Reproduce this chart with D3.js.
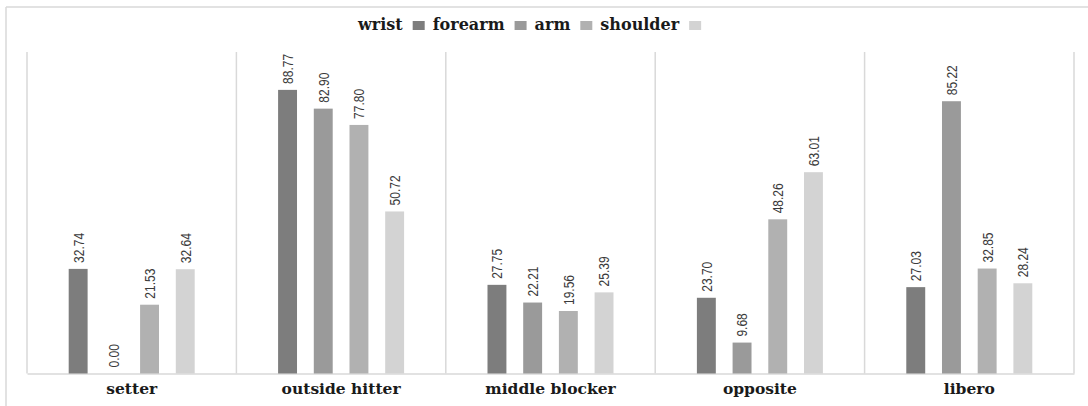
<!DOCTYPE html>
<html>
<head>
<meta charset="utf-8">
<script src="https://cdn.jsdelivr.net/npm/d3@7"></script>
<style>
  html, body { margin: 0; padding: 0; background: #ffffff; }
  svg { display: block; }
</style>
</head>
<body>
<svg id="chart" width="1088" height="406"></svg>
<script>
// Playing positions and body regions
const positions = ["setter", "outside hitter", "middle blocker", "opposite", "libero"];
const regions = ["wrist", "forearm", "arm", "shoulder"];

// Values per region, one entry per position
const wrist    = [32.74, 88.77, 27.75, 23.70, 27.03];
const forearm  = [0.00, 82.90, 22.21, 9.68, 85.22];
const arm      = [21.53, 77.80, 19.56, 48.26, 32.85];
const shoulder = [32.64, 50.72, 25.39, 63.01, 28.24];

const seriesValues = { wrist, forearm, arm, shoulder };
const colors = { wrist: "#7d7d7d", forearm: "#9a9a9a", arm: "#b1b1b1", shoulder: "#d3d3d3" };

const svg = d3.select("#chart");
const W = 1088, H = 406;
const gridColor = "#d9d9d9";
const serif = "'DejaVu Serif', 'Liberation Serif', serif";

// Frame around the chart
svg.append("line").attr("x1", 6).attr("x2", W).attr("y1", 7).attr("y2", 7)
  .attr("stroke", gridColor).attr("stroke-width", 1.5);
svg.append("line").attr("x1", 6).attr("x2", 6).attr("y1", 7).attr("y2", H)
  .attr("stroke", gridColor).attr("stroke-width", 1.5);

const plot = { left: 27, right: 1074, top: 52, bottom: 373.5 };

const x = d3.scaleBand().domain(positions).range([plot.left, plot.right]).padding(0);
const xInner = d3.scaleBand().domain(regions).range([0, x.bandwidth()])
  .paddingInner(0.47).paddingOuter(1.168);
const y = d3.scaleLinear().domain([0, 100]).range([plot.bottom, 54]);

// Category separators and plot edges
const edges = positions.map(p => x(p)).concat([plot.right]);
svg.append("g").selectAll("line").data(edges).join("line")
  .attr("x1", d => d).attr("x2", d => d)
  .attr("y1", plot.top).attr("y2", plot.bottom)
  .attr("stroke", gridColor).attr("stroke-width", 1.5);

// Baseline axis
const xAxis = svg.append("g")
  .attr("transform", `translate(0,${plot.bottom})`)
  .call(d3.axisBottom(x).tickSize(0).tickPadding(9));
xAxis.select(".domain").attr("stroke", gridColor).attr("stroke-width", 1.5);
xAxis.selectAll("text")
  .attr("font-family", serif)
  .attr("font-weight", "bold")
  .attr("font-size", 15.5)
  .attr("fill", "#1a1a1a");

// Bars
const rows = [];
positions.forEach((p, i) => {
  regions.forEach(r => rows.push({ position: p, region: r, value: seriesValues[r][i] }));
});

const groups = svg.append("g");
groups.selectAll("rect").data(rows).join("rect")
  .attr("x", d => x(d.position) + xInner(d.region))
  .attr("y", d => y(d.value))
  .attr("width", xInner.bandwidth())
  .attr("height", d => y(0) - y(d.value))
  .attr("fill", d => colors[d.region]);

// Value labels, rotated above each bar, drawn in a narrow face
const fmt = d3.format(".2f");
groups.selectAll("text").data(rows).join("text")
  .attr("transform", d => {
    const cx = x(d.position) + xInner(d.region) + xInner.bandwidth() / 2;
    return `translate(${cx},${y(d.value) - 6}) rotate(-90) scale(0.8,1)`;
  })
  .attr("dy", "0.36em")
  .attr("text-anchor", "start")
  .attr("font-family", "'Liberation Sans', Arial, sans-serif")
  .attr("font-size", 15)
  .attr("fill", "#3a3a3a")
  .text(d => fmt(d.value));

// Legend: label followed by its swatch
const legend = svg.append("g");
let cursor = 358;
const legendBaseline = 30;
regions.forEach(r => {
  const t = legend.append("text")
    .attr("x", cursor).attr("y", legendBaseline)
    .attr("font-family", serif)
    .attr("font-weight", "bold")
    .attr("font-size", 16)
    .attr("fill", "#1a1a1a")
    .text(r);
  const w = t.node().getComputedTextLength();
  const sx = cursor + w + 10;
  legend.append("rect")
    .attr("x", sx).attr("y", 21).attr("width", 12).attr("height", 9)
    .attr("fill", colors[r]);
  cursor = sx + 12 + 8;
});
</script>
</body>
</html>
